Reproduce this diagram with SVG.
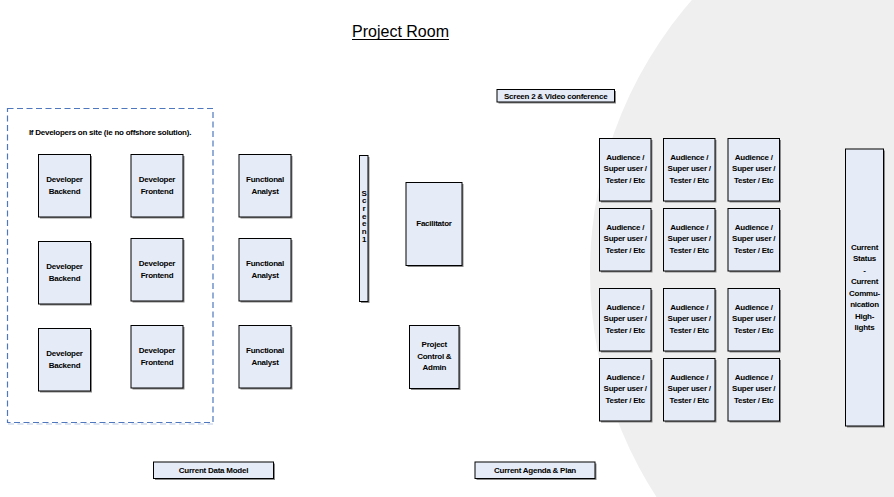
<svg xmlns="http://www.w3.org/2000/svg" width="894" height="497" viewBox="0 0 894 497">
<style>
.bg{fill:#efefef}
.sh{fill:#8a8a8a}
.box{fill:#e6ecf7;stroke:#000;stroke-width:1}
.t{font-family:"Liberation Sans",Arial,sans-serif;font-size:8px;letter-spacing:-0.25px;font-weight:bold;fill:#000;text-anchor:middle}
.title{font-family:"Liberation Sans",Arial,sans-serif;font-size:17px;fill:#000;text-anchor:middle}
.dash{fill:none;stroke:#4f77bd;stroke-width:1.2;stroke-dasharray:6,3.5}
</style>
<rect width="894" height="497" fill="#fff"/>
<circle class="bg" cx="1004" cy="272" r="414"/>

<g id="title">
<text class="title" x="400.5" y="36.5" textLength="97" lengthAdjust="spacingAndGlyphs">Project Room</text>
<line x1="352" y1="39.5" x2="449" y2="39.5" stroke="#000" stroke-width="1"/>
</g>

<g id="onsite-area">
<rect class="dash" x="7.5" y="108.5" width="205.5" height="314"/>
<line x1="8" y1="424" x2="213" y2="424" stroke="#b9c9e6" stroke-width="1" stroke-dasharray="6,3.5"/>
<text class="t" x="110" y="135">If Developers on site (ie no offshore solution).</text>
</g>

<g id="dev-backend-1"><rect class="sh" x="40" y="156" width="52" height="62.5"/><rect class="box" x="38.5" y="154.5" width="52" height="62.5"/><text class="t" x="64.5" y="182.3">Developer</text><text class="t" x="64.5" y="193.8">Backend</text></g>
<g id="dev-frontend-1"><rect class="sh" x="132.5" y="156" width="52" height="62.5"/><rect class="box" x="131" y="154.5" width="52" height="62.5"/><text class="t" x="157" y="182.3">Developer</text><text class="t" x="157" y="193.8">Frontend</text></g>
<g id="functional-analyst-1"><rect class="sh" x="240.5" y="156" width="52" height="62.5"/><rect class="box" x="239" y="154.5" width="52" height="62.5"/><text class="t" x="265" y="182.3">Functional</text><text class="t" x="265" y="193.8">Analyst</text></g>

<g id="dev-backend-2"><rect class="sh" x="40" y="243" width="52" height="62.5"/><rect class="box" x="38.5" y="241.5" width="52" height="62.5"/><text class="t" x="64.5" y="269.3">Developer</text><text class="t" x="64.5" y="280.8">Backend</text></g>
<g id="dev-frontend-2"><rect class="sh" x="132.5" y="240" width="52" height="62.5"/><rect class="box" x="131" y="238.5" width="52" height="62.5"/><text class="t" x="157" y="266.3">Developer</text><text class="t" x="157" y="277.8">Frontend</text></g>
<g id="functional-analyst-2"><rect class="sh" x="240.5" y="240" width="52" height="62.5"/><rect class="box" x="239" y="238.5" width="52" height="62.5"/><text class="t" x="265" y="266.3">Functional</text><text class="t" x="265" y="277.8">Analyst</text></g>

<g id="dev-backend-3"><rect class="sh" x="40" y="330" width="52" height="62.5"/><rect class="box" x="38.5" y="328.5" width="52" height="62.5"/><text class="t" x="64.5" y="356.3">Developer</text><text class="t" x="64.5" y="367.8">Backend</text></g>
<g id="dev-frontend-3"><rect class="sh" x="132.5" y="327" width="52" height="62.5"/><rect class="box" x="131" y="325.5" width="52" height="62.5"/><text class="t" x="157" y="353.3">Developer</text><text class="t" x="157" y="364.8">Frontend</text></g>
<g id="functional-analyst-3"><rect class="sh" x="240.5" y="327" width="52" height="62.5"/><rect class="box" x="239" y="325.5" width="52" height="62.5"/><text class="t" x="265" y="353.3">Functional</text><text class="t" x="265" y="364.8">Analyst</text></g>

<g id="screen-1"><rect class="sh" x="361" y="157" width="8.5" height="146"/><rect class="box" x="359.5" y="155.5" width="8.5" height="146"/>
<text class="t" x="364" y="195.5">S<tspan x="364" dy="7.7">c</tspan><tspan x="364" dy="7.7">r</tspan><tspan x="364" dy="7.7">e</tspan><tspan x="364" dy="7.7">e</tspan><tspan x="364" dy="7.7">n</tspan><tspan x="364" dy="7.7">1</tspan></text></g>

<g id="facilitator"><rect class="sh" x="407.5" y="184" width="56" height="83"/><rect class="box" x="406" y="182.5" width="56" height="83"/><text class="t" x="434" y="225.5">Facilitator</text></g>
<g id="project-control"><rect class="sh" x="411" y="327" width="49.5" height="63"/><rect class="box" x="409.5" y="325.5" width="49.5" height="63"/><text class="t" x="434.3" y="347">Project</text><text class="t" x="434.3" y="358.5">Control &amp;</text><text class="t" x="434.3" y="370">Admin</text></g>

<g id="screen-2"><rect class="sh" x="498.5" y="91" width="117.5" height="12.5"/><rect class="box" x="497" y="89.5" width="117.5" height="12.5"/><text class="t" x="555.7" y="98.7">Screen 2  &amp; Video conference</text></g>

<g id="audience-1-1"><rect class="sh" x="601" y="140" width="51.5" height="62.5"/><rect class="box" x="599.5" y="138.5" width="51.5" height="62.5"/><text class="t" x="625.2" y="159.6">Audience /</text><text class="t" x="625.2" y="171.3">Super user /</text><text class="t" x="625.2" y="183">Tester / Etc</text></g>
<g id="audience-1-2"><rect class="sh" x="665" y="140" width="51.5" height="62.5"/><rect class="box" x="663.5" y="138.5" width="51.5" height="62.5"/><text class="t" x="689.2" y="159.6">Audience /</text><text class="t" x="689.2" y="171.3">Super user /</text><text class="t" x="689.2" y="183">Tester / Etc</text></g>
<g id="audience-1-3"><rect class="sh" x="729.5" y="140" width="51.5" height="62.5"/><rect class="box" x="728" y="138.5" width="51.5" height="62.5"/><text class="t" x="753.7" y="159.6">Audience /</text><text class="t" x="753.7" y="171.3">Super user /</text><text class="t" x="753.7" y="183">Tester / Etc</text></g>

<g id="audience-2-1"><rect class="sh" x="601" y="210" width="51.5" height="62.5"/><rect class="box" x="599.5" y="208.5" width="51.5" height="62.5"/><text class="t" x="625.2" y="229.6">Audience /</text><text class="t" x="625.2" y="241.3">Super user /</text><text class="t" x="625.2" y="253">Tester / Etc</text></g>
<g id="audience-2-2"><rect class="sh" x="665" y="210" width="51.5" height="62.5"/><rect class="box" x="663.5" y="208.5" width="51.5" height="62.5"/><text class="t" x="689.2" y="229.6">Audience /</text><text class="t" x="689.2" y="241.3">Super user /</text><text class="t" x="689.2" y="253">Tester / Etc</text></g>
<g id="audience-2-3"><rect class="sh" x="729.5" y="210" width="51.5" height="62.5"/><rect class="box" x="728" y="208.5" width="51.5" height="62.5"/><text class="t" x="753.7" y="229.6">Audience /</text><text class="t" x="753.7" y="241.3">Super user /</text><text class="t" x="753.7" y="253">Tester / Etc</text></g>

<g id="audience-3-1"><rect class="sh" x="601" y="290" width="51.5" height="62.5"/><rect class="box" x="599.5" y="288.5" width="51.5" height="62.5"/><text class="t" x="625.2" y="309.6">Audience /</text><text class="t" x="625.2" y="321.3">Super user /</text><text class="t" x="625.2" y="333">Tester / Etc</text></g>
<g id="audience-3-2"><rect class="sh" x="665" y="290" width="51.5" height="62.5"/><rect class="box" x="663.5" y="288.5" width="51.5" height="62.5"/><text class="t" x="689.2" y="309.6">Audience /</text><text class="t" x="689.2" y="321.3">Super user /</text><text class="t" x="689.2" y="333">Tester / Etc</text></g>
<g id="audience-3-3"><rect class="sh" x="729.5" y="290" width="51.5" height="62.5"/><rect class="box" x="728" y="288.5" width="51.5" height="62.5"/><text class="t" x="753.7" y="309.6">Audience /</text><text class="t" x="753.7" y="321.3">Super user /</text><text class="t" x="753.7" y="333">Tester / Etc</text></g>

<g id="audience-4-1"><rect class="sh" x="601" y="360" width="51.5" height="62.5"/><rect class="box" x="599.5" y="358.5" width="51.5" height="62.5"/><text class="t" x="625.2" y="379.6">Audience /</text><text class="t" x="625.2" y="391.3">Super user /</text><text class="t" x="625.2" y="403">Tester / Etc</text></g>
<g id="audience-4-2"><rect class="sh" x="665" y="360" width="51.5" height="62.5"/><rect class="box" x="663.5" y="358.5" width="51.5" height="62.5"/><text class="t" x="689.2" y="379.6">Audience /</text><text class="t" x="689.2" y="391.3">Super user /</text><text class="t" x="689.2" y="403">Tester / Etc</text></g>
<g id="audience-4-3"><rect class="sh" x="729.5" y="360" width="51.5" height="62.5"/><rect class="box" x="728" y="358.5" width="51.5" height="62.5"/><text class="t" x="753.7" y="379.6">Audience /</text><text class="t" x="753.7" y="391.3">Super user /</text><text class="t" x="753.7" y="403">Tester / Etc</text></g>

<g id="current-status"><rect class="sh" x="847" y="150.5" width="38" height="277"/><rect class="box" x="845.5" y="149" width="38" height="277"/>
<text class="t" x="864.5" y="249.7">Current</text><text class="t" x="864.5" y="261.2">Status</text><text class="t" x="864.5" y="272.7">-</text><text class="t" x="864.5" y="284.2">Current</text><text class="t" x="864.5" y="295.7">Commu-</text><text class="t" x="864.5" y="307.2">nication</text><text class="t" x="864.5" y="318.7">High-</text><text class="t" x="864.5" y="330.2">lights</text></g>

<g id="current-data-model"><rect class="sh" x="155" y="463.5" width="120" height="16.5"/><rect class="box" x="153.5" y="462" width="120" height="16.5"/><text class="t" x="213.5" y="473.2">Current Data Model</text></g>
<g id="current-agenda"><rect class="sh" x="476.5" y="463.5" width="120" height="16.5"/><rect class="box" x="475" y="462" width="120" height="16.5"/><text class="t" x="535" y="473.2">Current Agenda &amp; Plan</text></g>

<g id="connectors"/>
</svg>
